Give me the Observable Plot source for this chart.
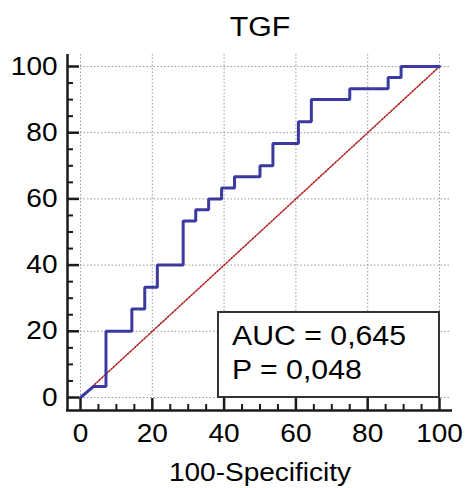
<!DOCTYPE html>
<html><head><meta charset="utf-8">
<script src="https://cdn.jsdelivr.net/npm/d3@7"></script>
<script src="https://cdn.jsdelivr.net/npm/@observablehq/plot@0.6"></script>
<style>
body{margin:0;background:#fff}
svg{font-family:"Liberation Sans",Arial,sans-serif}
</style>
</head><body><div id="chart"></div>
<script>
const title = "TGF";
const xLabel = "100-Specificity";
// ROC curve vertices (100-Specificity, Sensitivity)
const fpr = [0, 3.6, 7.1, 7.1, 14.3, 14.3, 17.9, 17.9, 21.4, 21.4, 28.6, 28.6, 32.1, 32.1, 35.7, 35.7, 39.3, 39.3, 42.9, 42.9, 50, 50, 53.6, 53.6, 60.7, 60.7, 64.3, 64.3, 75, 75, 85.7, 85.7, 89.3, 89.3, 100];
const tpr = [0, 3.3, 3.3, 20, 20, 26.7, 26.7, 33.3, 33.3, 40, 40, 53.3, 53.3, 56.7, 56.7, 60, 60, 63.3, 63.3, 66.7, 66.7, 70, 70, 76.7, 76.7, 83.3, 83.3, 90, 90, 93.3, 93.3, 96.7, 96.7, 100, 100];
const diagonal = [0, 100];
const majorTicks = [0, 20, 40, 60, 80, 100];
const minorTicks = [5, 10, 15, 25, 30, 35, 45, 50, 55, 65, 70, 75, 85, 90, 95];
const legendLines = ["AUC = 0,645", "P = 0,048"];

const curve = fpr.map((x, i) => ({x, y: tpr[i]}));
const diag = diagonal.map(v => ({x: v, y: v}));

const axisColor = "#1a1a1a";
const grid = {stroke: "#9a9a9a", strokeWidth: 1, strokeDasharray: "1.5,2"};
const plot = Plot.plot({
  width: 467, height: 488,
  marginLeft: 80, marginRight: 28, marginTop: 66, marginBottom: 91,
  x: {domain: [0, 100]},
  y: {domain: [0, 100]},
  style: {fontFamily: "Liberation Sans, Arial, sans-serif", fontSize: "25px", color: "#000", background: "#fff"},
  marks: [
    Plot.ruleX(majorTicks, {...grid, insetTop: -12}),
    Plot.ruleY(majorTicks, {...grid, insetRight: -12}),
    Plot.line(diag, {x: "x", y: "y", stroke: "#b01818", strokeWidth: 1.5, strokeDasharray: "1.6,1.6"}),
    Plot.line(curve, {x: "x", y: "y", stroke: "#3a3aa0", strokeWidth: 3, strokeLinejoin: "miter"}),
    // axis lines (offset from the frame)
    Plot.ruleX([0], {dx: -13, insetTop: -12, insetBottom: -14, stroke: axisColor, strokeWidth: 2.5}),
    Plot.ruleY([0], {dy: 13, insetLeft: -14, insetRight: -13, stroke: axisColor, strokeWidth: 2.5}),
    // major ticks
    Plot.ruleX(majorTicks, {y1: 0, y2: 0, insetTop: 1, insetBottom: -13, stroke: axisColor, strokeWidth: 2.5}),
    Plot.ruleY(majorTicks, {x1: 0, x2: 0, insetLeft: -13, insetRight: 1, stroke: axisColor, strokeWidth: 2.5}),
    // minor ticks
    Plot.ruleX(minorTicks, {y1: 0, y2: 0, insetTop: 7, insetBottom: -13, stroke: axisColor, strokeWidth: 2}),
    Plot.ruleY(minorTicks, {x1: 0, x2: 0, insetLeft: -13, insetRight: 7, stroke: axisColor, strokeWidth: 2}),
    // tick labels
    Plot.axisX(majorTicks, {tickSize: 0, tickPadding: 27, label: null, fontSize: 25, fill: "#000"}),
    Plot.axisY(majorTicks, {tickSize: 0, tickPadding: 23, label: null, fontSize: 25, fill: "#000"}),
    Plot.text([title], {frameAnchor: "top", dy: -31, lineAnchor: "bottom", fontSize: 27, fill: "#000"}),
    Plot.text([xLabel], {frameAnchor: "bottom", dy: 83, lineAnchor: "bottom", fontSize: 25, fill: "#000"})
  ]
});

// legend box anchored at the frame's bottom-right corner
const xs = plot.scale("x"), ys = plot.scale("y");
const right = xs.apply(100), bottom = ys.apply(0);
const boxW = 221, boxH = 85;
const g = d3.select(plot).append("g");
g.append("rect").attr("x", right - boxW).attr("y", bottom - boxH).attr("width", boxW).attr("height", boxH)
  .attr("fill", "#fff").attr("stroke", "#333").attr("stroke-width", 2);
legendLines.forEach((t, i) => {
  g.append("text").attr("x", right - boxW + 14).attr("y", bottom - boxH + 33 + i * 34)
    .attr("text-anchor", "start").attr("font-size", 27).attr("fill", "#000").text(t);
});
document.getElementById("chart").appendChild(plot);

// the reference's lettering is slightly wider than the font: stretch each text horizontally
d3.select(plot).selectAll("text").each(function() {
  const len = this.getComputedTextLength();
  if (len > 0) {
    this.setAttribute("textLength", (len * 1.12).toFixed(1));
    this.setAttribute("lengthAdjust", "spacingAndGlyphs");
  }
});
</script>
</body></html>
